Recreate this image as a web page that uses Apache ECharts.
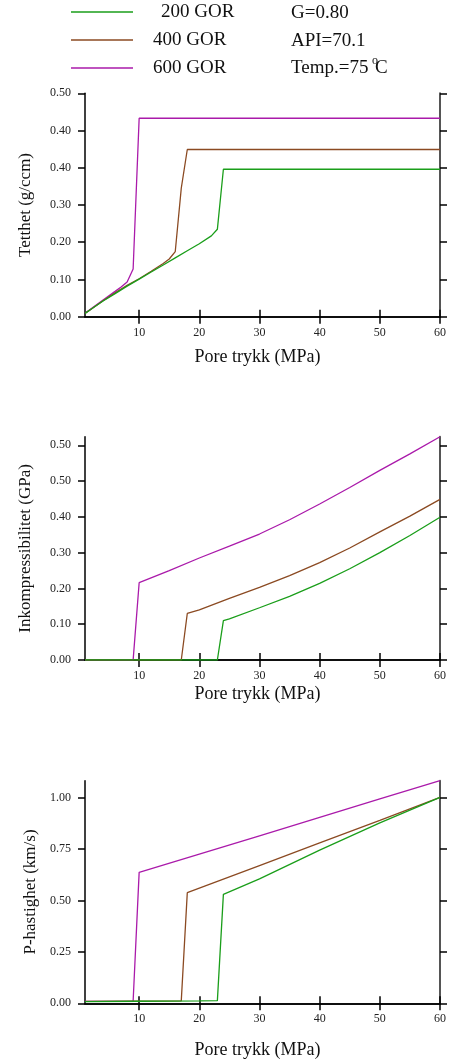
<!DOCTYPE html>
<html>
<head>
<meta charset="utf-8">
<script src="https://cdn.jsdelivr.net/npm/echarts@6/dist/echarts.min.js"></script>
<style>html,body{margin:0;padding:0;background:#fff;}#c{width:451px;height:1061px;}</style>
</head>
<body>
<div id="c"></div>
<script>
// ---- data ----
var seriesNames = ['200 GOR', '400 GOR', '600 GOR'];
var xTickValues = [10, 20, 30, 40, 50, 60];

// Tetthet (g/ccm)
var tetGreenX = [1, 2, 4, 6, 8, 10, 12, 14, 16, 18, 20, 22, 23, 24, 60];
var tetGreenY = [0.009, 0.02, 0.042, 0.062, 0.082, 0.101, 0.12, 0.139, 0.158, 0.177, 0.196, 0.217, 0.235, 0.396, 0.396];
var tetBrownX = [1, 2, 4, 6, 8, 10, 12, 14, 15, 16, 17, 18, 60];
var tetBrownY = [0.009, 0.02, 0.043, 0.064, 0.084, 0.102, 0.122, 0.143, 0.155, 0.175, 0.345, 0.449, 0.449];
var tetPurpleX = [1, 2, 4, 6, 7, 8, 9, 10, 60];
var tetPurpleY = [0.009, 0.021, 0.045, 0.068, 0.08, 0.093, 0.128, 0.533, 0.533];
var tetTickValues = [0, 0.1, 0.2, 0.3, 0.4, 0.5, 0.6];
var tetTickLabels = ['0.00', '0.10', '0.20', '0.30', '0.40', '0.40', '0.50'];

// Inkompressibilitet (GPa)
var inkGreenX = [1, 23, 24, 25, 30, 35, 40, 45, 50, 55, 60];
var inkGreenY = [0, 0, 0.11, 0.115, 0.146, 0.178, 0.214, 0.255, 0.30, 0.348, 0.399];
var inkBrownX = [1, 17, 18, 20, 25, 30, 35, 40, 45, 50, 55, 60];
var inkBrownY = [0, 0, 0.13, 0.14, 0.172, 0.203, 0.236, 0.272, 0.313, 0.358, 0.402, 0.449];
var inkPurpleX = [1, 9, 10, 15, 20, 25, 30, 35, 40, 45, 50, 55, 60];
var inkPurpleY = [0, 0, 0.216, 0.25, 0.285, 0.318, 0.352, 0.392, 0.436, 0.482, 0.53, 0.576, 0.624];
var inkTickValues = [0, 0.1, 0.2, 0.3, 0.4, 0.5, 0.6];
var inkTickLabels = ['0.00', '0.10', '0.20', '0.30', '0.40', '0.50', '0.50'];

// P-hastighet (km/s)
var velGreenX = [1, 10, 20, 23, 24, 30, 40, 50, 60];
var velGreenY = [0.008, 0.01, 0.012, 0.013, 0.53, 0.605, 0.745, 0.878, 1.002];
var velBrownX = [1, 10, 17, 18, 30, 40, 50, 60];
var velBrownY = [0.009, 0.011, 0.012, 0.538, 0.67, 0.78, 0.89, 1.002];
var velPurpleX = [1, 9, 10, 20, 30, 40, 50, 60];
var velPurpleY = [0.009, 0.011, 0.637, 0.726, 0.815, 0.904, 0.994, 1.083];
var velTickValues = [0, 0.25, 0.5, 0.75, 1.0];
var velTickLabels = ['0.00', '0.25', '0.50', '0.75', '1.00'];

// ---- chart ----
var FONT = '"Liberation Serif", "Times New Roman", serif';
var colors = {'200 GOR': '#1a9e1a', '400 GOR': '#8b4a22', '600 GOR': '#aa1aaa'};

function pairs(xs, ys) { return xs.map(function (x, i) { return [x, ys[i]]; }); }

var panels = [
  {top: 93.3, height: 223.4, max: 0.6, ticks: tetTickValues, labels: tetTickLabels, name: 'Tetthet (g/ccm)', nameGap: 51, xNameGap: 32,
   data: [pairs(tetGreenX, tetGreenY), pairs(tetBrownX, tetBrownY), pairs(tetPurpleX, tetPurpleY)]},
  {top: 436.7, height: 223.3, max: 0.624, ticks: inkTickValues, labels: inkTickLabels, name: 'Inkompressibilitet (GPa)', nameGap: 51, xNameGap: 25,
   data: [pairs(inkGreenX, inkGreenY), pairs(inkBrownX, inkBrownY), pairs(inkPurpleX, inkPurpleY)]},
  {top: 780.7, height: 222.6, max: 1.083, ticks: velTickValues, labels: velTickLabels, name: 'P-hastighet (km/s)', nameGap: 43, xNameGap: 38,
   data: [pairs(velGreenX, velGreenY), pairs(velBrownX, velBrownY), pairs(velPurpleX, velPurpleY)]}
];

var grids = [], xAxes = [], yAxes = [], series = [];
panels.forEach(function (p, gi) {
  grids.push({left: 85, right: 11, top: p.top, height: p.height});
  var tickStyle = {show: true, inside: false, length: 7, lineStyle: {color: '#000', width: 1.5}};
  xAxes.push({
    type: 'value', gridIndex: gi, min: 1, max: 60, position: 'bottom',
    axisLine: {lineStyle: {color: '#000', width: 1.5}},
    axisTick: Object.assign({customValues: xTickValues}, tickStyle),
    axisLabel: {customValues: xTickValues, margin: 10, color: '#222', fontFamily: FONT, fontSize: 12},
    splitLine: {show: false},
    name: 'Pore trykk (MPa)', nameLocation: 'middle', nameGap: p.xNameGap,
    nameTextStyle: {fontFamily: FONT, fontSize: 18, color: '#111', padding: [0, 10, 0, 0]}
  });
  xAxes.push({
    type: 'value', gridIndex: gi, min: 1, max: 60, position: 'top',
    axisLine: {lineStyle: {color: '#000', width: 1.5}},
    axisTick: Object.assign({customValues: xTickValues}, tickStyle),
    axisLabel: {show: false},
    splitLine: {show: false}
  });
  var labels = p.labels, ticks = p.ticks;
  yAxes.push({
    type: 'value', gridIndex: gi, min: 0, max: p.max, position: 'left',
    axisLine: {show: true, lineStyle: {color: '#000', width: 1.5}},
    axisTick: Object.assign({customValues: ticks}, tickStyle),
    axisLabel: {customValues: ticks, margin: 14, color: '#222', fontFamily: FONT, fontSize: 12,
      formatter: function (v) {
        for (var i = 0; i < ticks.length; i++) { if (Math.abs(ticks[i] - v) < 1e-6) return labels[i]; }
        return '';
      }},
    splitLine: {show: false},
    name: p.name, nameLocation: 'middle', nameGap: p.nameGap, nameRotate: 90,
    nameTextStyle: {fontFamily: FONT, fontSize: 17, color: '#111'}
  });
  yAxes.push({
    type: 'value', gridIndex: gi, min: 0, max: p.max, position: 'right',
    axisLine: {show: true, lineStyle: {color: '#555', width: 2}},
    axisTick: Object.assign({customValues: ticks}, tickStyle),
    axisLabel: {show: false},
    splitLine: {show: false}
  });
  // draw order: purple, brown, green (green on top)
  [2, 1, 0].forEach(function (si) {
    var nm = seriesNames[si];
    series.push({
      type: 'line', name: nm, xAxisIndex: gi * 2, yAxisIndex: gi * 2,
      data: p.data[si], showSymbol: false, symbol: 'none', animation: false,
      lineStyle: {color: colors[nm], width: 1.3}, itemStyle: {color: colors[nm]}
    });
  });
});

var chart = echarts.init(document.getElementById('c'), null, {renderer: 'canvas'});
chart.setOption({
  backgroundColor: '#fff',
  animation: false,
  grid: grids, xAxis: xAxes, yAxis: yAxes, series: series,
  legend: {
    data: seriesNames, orient: 'vertical', left: 66, top: -2.5,
    itemWidth: 62, itemHeight: 1.6, itemGap: 9, icon: 'rect', selectedMode: false,
    formatter: function (n) { return n === '200 GOR' ? '{b|' + n + '}' : '{a|' + n + '}'; },
    textStyle: {fontFamily: FONT, fontSize: 19, color: '#111', lineHeight: 19,
      rich: {a: {fontFamily: FONT, fontSize: 19, padding: [0, 0, 0, 15], color: '#111'},
             b: {fontFamily: FONT, fontSize: 19, padding: [0, 0, 0, 23], color: '#111'}}}
  },
  graphic: [
    {type: 'text', left: 291, top: 4, style: {text: 'G=0.80', font: '19px ' + FONT, fill: '#111'}},
    {type: 'text', left: 291, top: 31.5, style: {text: 'API=70.1', font: '19px ' + FONT, fill: '#111'}},
    {type: 'text', left: 291, top: 58.5, style: {text: 'Temp.=75', font: '19px ' + FONT, fill: '#111'}},
    {type: 'text', left: 372, top: 55, style: {text: 'o', font: '12px ' + FONT, fill: '#111'}},
    {type: 'text', left: 375, top: 58.5, style: {text: 'C', font: '19px ' + FONT, fill: '#111'}}
  ]
});
</script>
</body>
</html>
